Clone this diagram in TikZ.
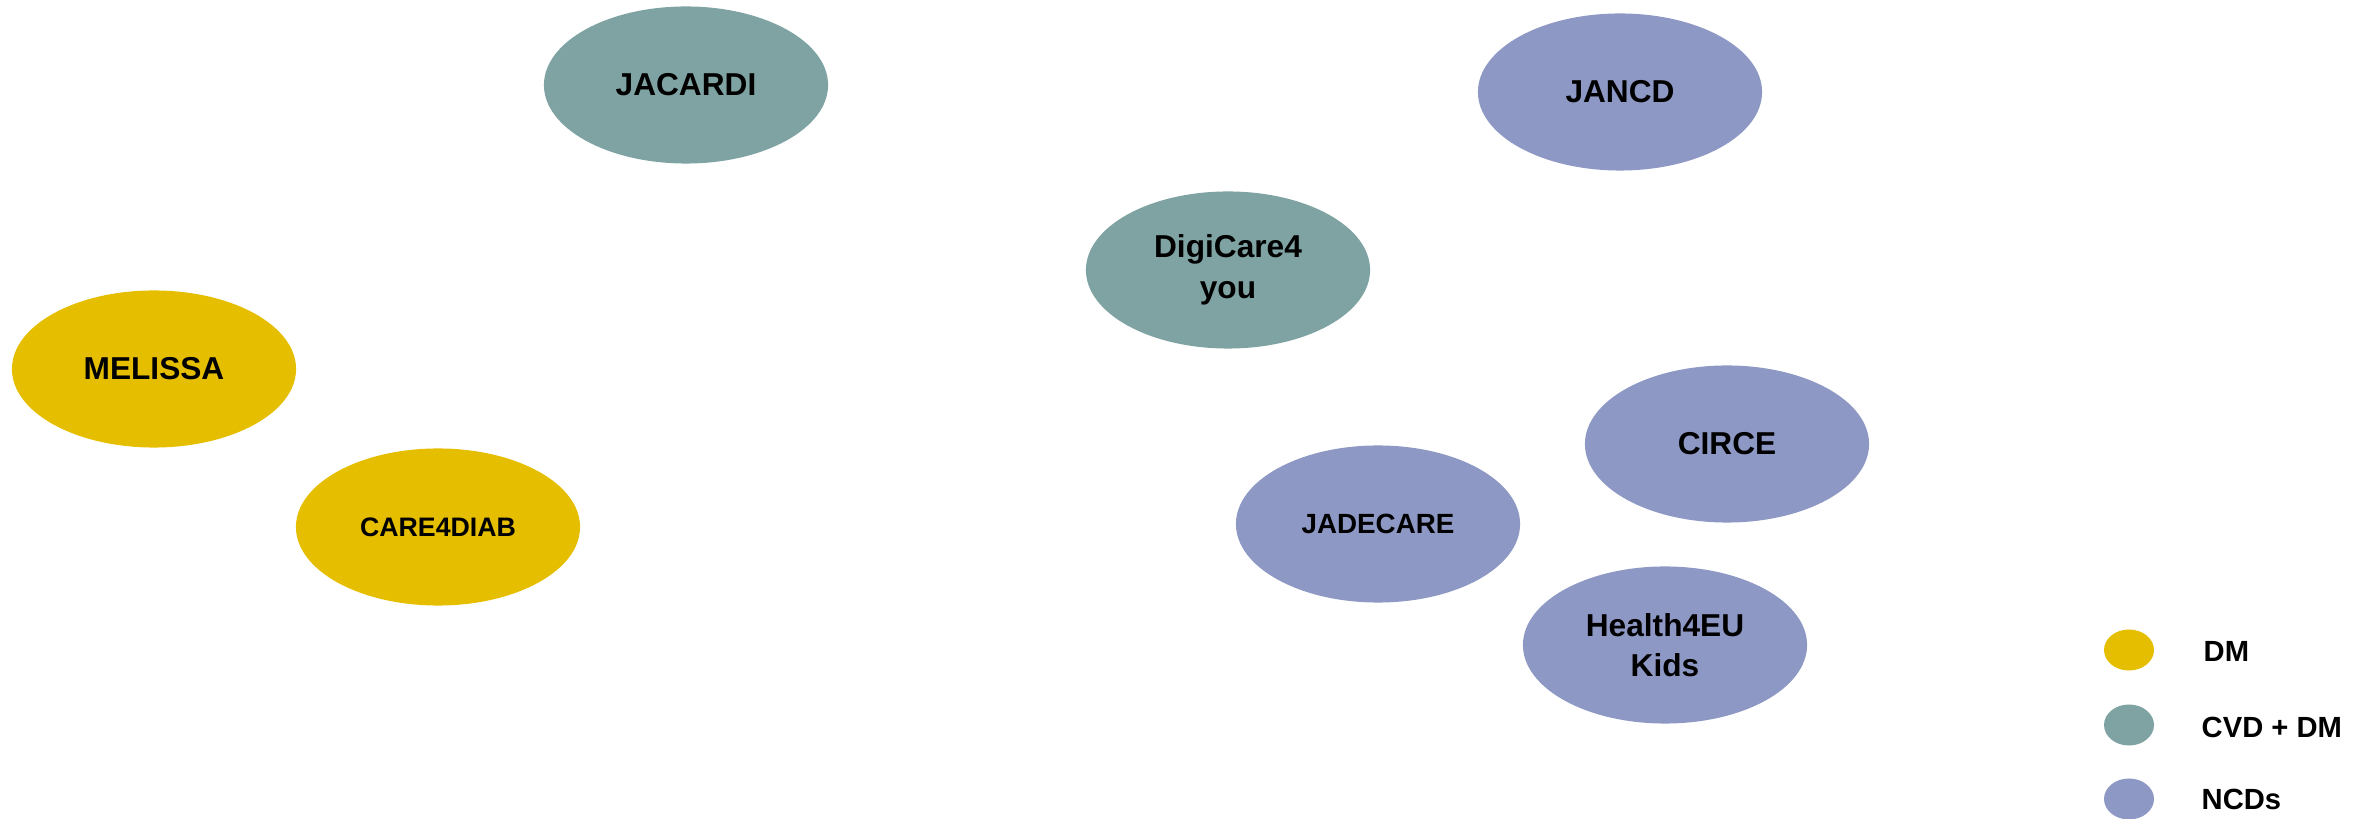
\documentclass[tikz,border=0pt]{standalone}
\usepackage{fontspec}
\setmainfont{Liberation Sans}
\usetikzlibrary{shapes.geometric}
\definecolor{dmgold}{RGB}{230,190,0}
\definecolor{cvdteal}{RGB}{127,163,163}
\definecolor{ncdblue}{RGB}{142,152,196}
\begin{document}
\begin{tikzpicture}[x=0.01cm, y=-0.01cm,
    proj/.style={ellipse, minimum width=2.84cm, minimum height=1.57cm, inner sep=0pt, align=center, font=\bfseries\fontsize{9}{11.5}\selectfont},
    key/.style={ellipse, minimum width=0.50cm, minimum height=0.41cm, inner sep=0pt},
    keytext/.style={anchor=west, inner sep=0pt, font=\bfseries\fontsize{8.3}{10}\selectfont}]
    \useasboundingbox (0,0) rectangle (2369,819);

    % DM projects
    \node[proj, fill=dmgold] (melissa) at (154,369) {MELISSA};
    \node[proj, fill=dmgold, font=\bfseries\fontsize{7.6}{9}\selectfont] (care4diab) at (438,527) {CARE4DIAB};

    % CVD + DM projects
    \node[proj, fill=cvdteal] (jacardi) at (686,85) {JACARDI};
    \node[proj, fill=cvdteal] (digicare) at (1228,270) {DigiCare4\\you};

    % NCD projects
    \node[proj, fill=ncdblue] (jancd) at (1620,92) {JANCD};
    \node[proj, fill=ncdblue] (circe) at (1727,444) {CIRCE};
    \node[proj, fill=ncdblue, font=\bfseries\fontsize{7.9}{9}\selectfont] (jadecare) at (1378,524) {JADECARE};
    \node[proj, fill=ncdblue] (health) at (1665,645) {Health4EU\\Kids};

    % legend
    \node[key, fill=dmgold] (keydm) at (2129,650) {};
    \node[keytext] (labdm) at (2203,651) {DM};
    \node[key, fill=cvdteal] (keycvd) at (2129,725) {};
    \node[keytext] (labcvd) at (2201,727) {CVD + DM};
    \node[key, fill=ncdblue] (keyncd) at (2129,799) {};
    \node[keytext] (labncd) at (2201,799) {NCDs};
\end{tikzpicture}
\end{document}
